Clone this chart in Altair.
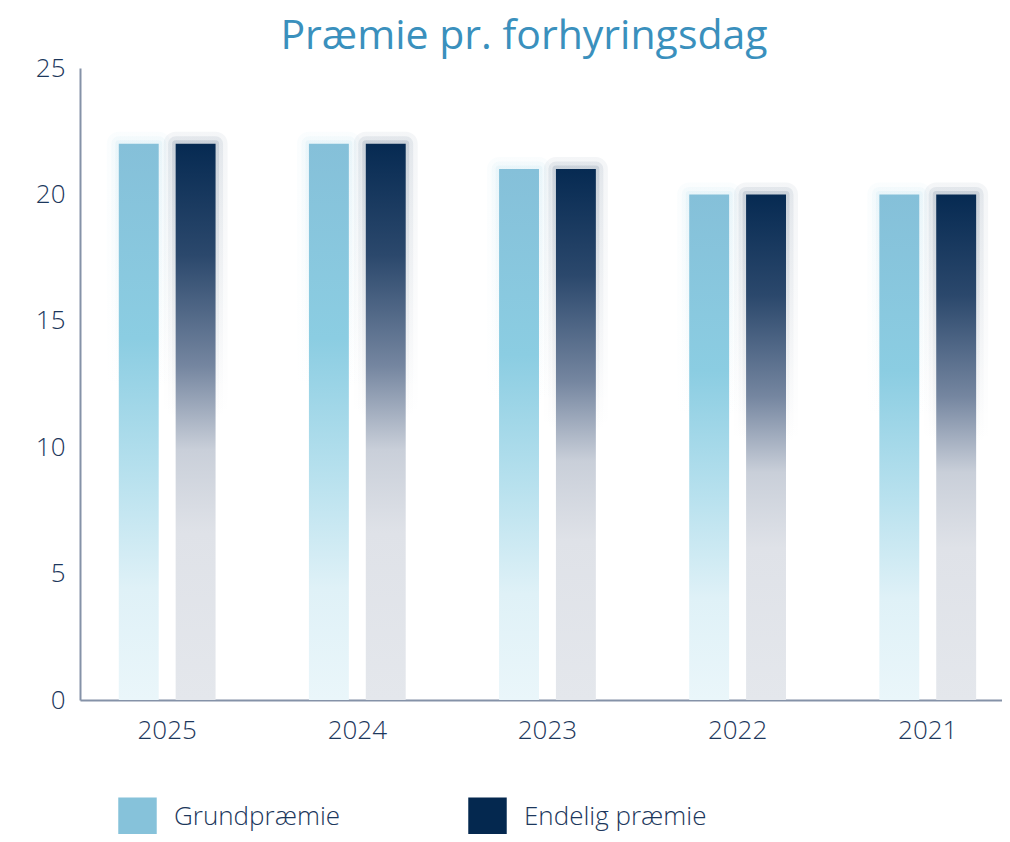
import altair as alt
import pandas as pd

years = ["2025", "2024", "2023", "2022", "2021"]
grundpraemie = [22, 22, 21, 20, 20]
endelig_praemie = [22, 22, 21, 20, 20]
series = ["Grundpræmie", "Endelig præmie"]
series_colors = ["#86c2da", "#04284f"]

rows = []
for i, yr in enumerate(years):
    rows.append({"year": yr, "series": series[0], "value": grundpraemie[i]})
    rows.append({"year": yr, "series": series[1], "value": endelig_praemie[i]})
df = pd.DataFrame(rows)


def vgrad(stops):
    return {"gradient": "linear", "x1": 0, "y1": 0, "x2": 0, "y2": 1,
            "stops": [{"offset": o, "color": c} for o, c in stops]}


grad_grund = vgrad([(0.0, "#85c0d9"), (0.35, "#8bcde2"), (0.6, "#b8e1ee"),
                    (0.8, "#dff1f7"), (1.0, "#eaf6fa")])
grad_end = vgrad([(0.0, "#062a52"), (0.2, "#2b486c"), (0.4, "#7586a0"),
                  (0.55, "#c9cfd9"), (0.7, "#dfe2e8"), (1.0, "#e4e7ec")])


def glow_grad(rgb, alpha, fade):
    r, g, b = rgb
    return vgrad([(0.0, f"rgba({r},{g},{b},{alpha})"),
                  (fade, f"rgba({r},{g},{b},0)"),
                  (1.0, f"rgba({r},{g},{b},0)")])


FONT = "Open Sans"
LABEL_COLOR = "#1c375c"

x_enc = alt.X(
    "year:N", sort=years, title=None,
    scale=alt.Scale(paddingInner=0.491, paddingOuter=0.17, align=0.6),
    axis=alt.Axis(labelAngle=0, labelPadding=17),
)
xoff_enc = alt.XOffset(
    "series:N", sort=series,
    scale=alt.Scale(paddingInner=0.298, paddingOuter=0),
)
y_enc = alt.Y(
    "value:Q", title=None,
    scale=alt.Scale(domain=[0, 25], nice=False),
    axis=alt.Axis(values=[0, 5, 10, 15, 20, 25], labelPadding=15),
)

fill_cond = alt.condition(alt.datum.series == series[0], alt.value(grad_grund), alt.value(grad_end))

glow_layers = []
for width, a_light, a_dark in [(24, 0.04, 0.045), (15, 0.06, 0.07), (7, 0.09, 0.11)]:
    stroke_cond = alt.condition(
        alt.datum.series == series[0],
        alt.value(glow_grad((133, 200, 225), a_light, 0.45)),
        alt.value(glow_grad((6, 42, 82), a_dark, 0.5)),
    )
    glow_layers.append(
        alt.Chart(df).mark_bar(fillOpacity=0, strokeWidth=width, strokeJoin="round").encode(
            x=x_enc, xOffset=xoff_enc, y=y_enc, stroke=stroke_cond,
        )
    )

bars = alt.Chart(df).mark_bar().encode(
    x=x_enc, xOffset=xoff_enc, y=y_enc, fill=fill_cond,
)

legend_layer = alt.Chart(df).mark_square(opacity=0, size=1).encode(
    x=x_enc, xOffset=xoff_enc, y=y_enc,
    color=alt.Color(
        "series:N", sort=series,
        scale=alt.Scale(domain=series, range=series_colors),
        legend=alt.Legend(
            title=None, orient="none", legendX=38, legendY=729,
            direction="horizontal", symbolType="square", symbolSize=1480,
            symbolOpacity=1, symbolStrokeWidth=0,
            labelFontSize=26, labelFont=FONT, labelFontWeight=300,
            labelColor=LABEL_COLOR, labelOffset=17, columnPadding=127,
            labelLimit=400,
        ),
    ),
)

chart = alt.layer(*glow_layers, bars, legend_layer).properties(
    width=922, height=632,
    padding={"left": 72, "top": 60, "right": 0, "bottom": 134},
    autosize=alt.AutoSizeParams(type="none"),
    title=alt.TitleParams(
        "Præmie pr. forhyringsdag", fontSize=41, font=FONT, fontWeight=400,
        color="#3a90bd", anchor="middle", frame="group", dx=-17, offset=0, dy=3,
    ),
).configure_view(stroke=None).configure_axis(
    domainColor="#8592a8", domainWidth=2, ticks=False, grid=False,
    labelFontSize=26, labelFont=FONT, labelFontWeight=300, labelColor=LABEL_COLOR,
)

chart.save("out.html", embed_options={"renderer": "svg", "actions": False})
